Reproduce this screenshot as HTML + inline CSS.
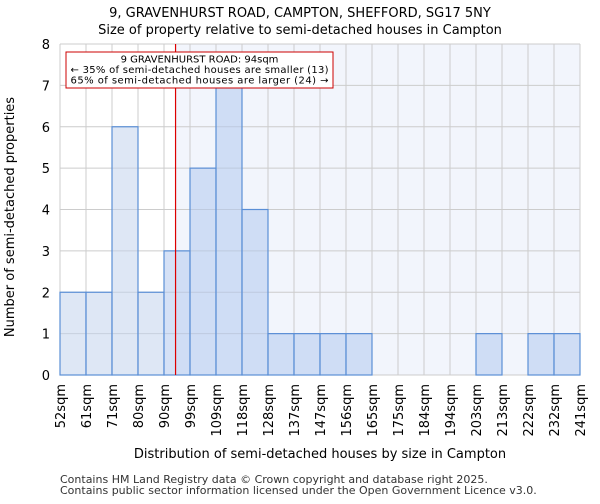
<!DOCTYPE html>
<html><head><meta charset="utf-8"><style>
body{margin:0;background:#fff;font-family:"DejaVu Sans","Liberation Sans",sans-serif}
</style></head><body>
<svg id="chart" width="600" height="500" xmlns="http://www.w3.org/2000/svg" font-family="DejaVu Sans, Liberation Sans, sans-serif">
<text x="300" y="17" text-anchor="middle" font-size="13">9, GRAVENHURST ROAD, CAMPTON, SHEFFORD, SG17 5NY</text>
<text x="300" y="34" text-anchor="middle" font-size="13">Size of property relative to semi-detached houses in Campton</text>
<g id="plot"></g>
<text x="320" y="458" text-anchor="middle" font-size="13">Distribution of semi-detached houses by size in Campton</text>
<text transform="translate(14,217) rotate(-90)" text-anchor="middle" font-size="13">Number of semi-detached properties</text>
<text x="60" y="483" font-size="11" fill="#333">Contains HM Land Registry data © Crown copyright and database right 2025.</text>
<text x="60" y="494" font-size="11" fill="#333">Contains public sector information licensed under the Open Government Licence v3.0.</text>
</svg>
<script>
const categories=["52sqm","61sqm","71sqm","80sqm","90sqm","99sqm","109sqm","118sqm","128sqm","137sqm","147sqm","156sqm","165sqm","175sqm","184sqm","194sqm","203sqm","213sqm","222sqm","232sqm","241sqm"];
const counts=[2,2,6,2,3,5,7,4,1,1,1,1,0,0,0,0,1,0,1,1];
const yTicks=[0,1,2,3,4,5,6,7,8];
const binStart=[52,61,71,80,90,99,109,118,128,137,147,156,165,175,184,194,203,213,222,232,241];
const subjectSize=94;
const NS="http://www.w3.org/2000/svg";
const X0=60,X1=580,Y0=375,Y1=44,YMAX=8;
const nb=counts.length,bw=(X1-X0)/nb;
const xs=i=>X0+i*bw;
const ys=v=>Y0-(Y0-Y1)*v/YMAX;
function sizeX(s){let i=0;while(i<binStart.length-2&&binStart[i+1]<=s)i++;return xs(i)+bw*(s-binStart[i])/(binStart[i+1]-binStart[i]);}
const g=document.getElementById('plot');
function mk(t,a){const e=document.createElementNS(NS,t);for(const k in a)e.setAttribute(k,a[k]);g.appendChild(e);return e;}
const lx=sizeX(subjectSize);
let bg=mk('rect',{x:lx,y:Y1,width:X1-lx,height:Y0-Y1,fill:'#f2f5fc'});


for(let i=0;i<=nb;i++){
  const l=mk('line',{x1:xs(i),x2:xs(i),y1:Y1,y2:Y0,stroke:'#cccccc','stroke-width':1});
  
  
}
yTicks.forEach(v=>{
  const l=mk('line',{x1:X0,x2:X1,y1:ys(v),y2:ys(v),stroke:'#cccccc','stroke-width':1});
  
  
  const t=mk('text',{x:X0-10,y:ys(v)+5,'text-anchor':'end','font-size':13});
  t.textContent=v;
  
  
});
counts.forEach((c,i)=>{
  if(c<=0)return;
  const x=xs(i);
  const r=mk('rect',{x:x,y:ys(c),width:bw,height:Y0-ys(c),fill:(x+bw/2<lx)?'#c3d4ec':'#b3c9ee','fill-opacity':0.55,stroke:'#5b8fd6','stroke-width':1.2});
  
  
});
categories.forEach((c,i)=>{
  const x=xs(i)+5;
  const t=mk('text',{transform:`translate(${x},384) rotate(-90)`,'text-anchor':'end','font-size':13});
  t.textContent=c;
  
  
});
const rl=mk('line',{x1:lx,x2:lx,y1:Y1,y2:Y0,stroke:'#dd0000','stroke-width':1.2});


const box=mk('rect',{x:66,y:52,width:267,height:36,fill:'#fff',stroke:'#cc0000','stroke-width':1});


["9 GRAVENHURST ROAD: 94sqm","← 35% of semi-detached houses are smaller (13)","65% of semi-detached houses are larger (24) →"].forEach((s,k)=>{
  const t=mk('text',{x:199.5,y:62.5+k*10.5,'text-anchor':'middle','font-size':10,textLength:k?258:0});
  if(!k)t.removeAttribute('textLength');
  t.textContent=s;
  
  
});
</script>
</body></html>
